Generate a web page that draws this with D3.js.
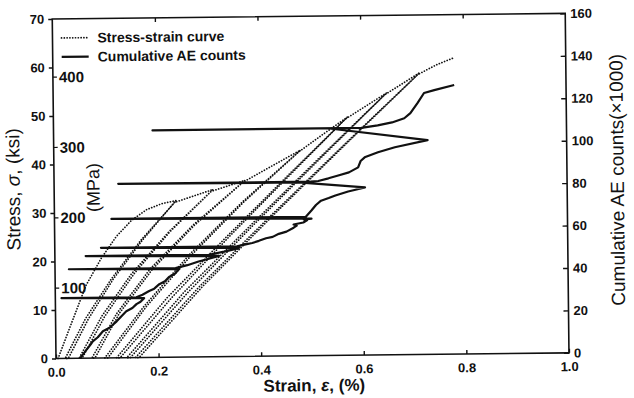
<!DOCTYPE html>
<html>
<head>
<meta charset="utf-8">
<script src="https://cdn.jsdelivr.net/npm/d3@7"></script>
<style>
  body { margin: 0; background: #fff; }
  svg { display: block; }
  text { font-family: "Liberation Sans", Arial, Helvetica, sans-serif; fill: #111; }
</style>
</head>
<body>
<svg id="chart" width="634" height="398"></svg>
<script>
// axis ticks
const stressTicks = [0, 10, 20, 30, 40, 50, 60, 70];
const countTicks = [0, 20, 40, 60, 80, 100, 120, 140, 160];
const strainTicks = [0, 0.2, 0.4, 0.6, 0.8, 1.0];
const mpaTicks = [100, 200, 300, 400];
const legendLabels = ['Stress-strain curve', 'Cumulative AE counts'];

// strain (%) vs stress (ksi): first loading, then unload / reload loops
const stressStrain = [
  [0.004, 0], [0.03, 7], [0.06, 15], [0.09, 20.5], [0.12, 25], [0.15, 28.3], [0.18, 30.5], [0.21, 31.7], [0.238, 32.3],
  [0.168, 24.2], [0.109, 16.2], [0.058, 8.1], [0.018, 0],
  [0.024, 0], [0.064, 8.1], [0.113, 16.2], [0.171, 24.2], [0.234, 31.9],
  [0.310, 34.5],
  [0.223, 25.9], [0.149, 17.3], [0.090, 8.6], [0.045, 0],
  [0.051, 0], [0.096, 8.6], [0.154, 17.3], [0.225, 25.9], [0.306, 34.1],
  [0.372, 36.3],
  [0.270, 27.2], [0.185, 18.2], [0.119, 9.1], [0.070, 0],
  [0.076, 0], [0.124, 9.1], [0.190, 18.2], [0.273, 27.2], [0.368, 35.9],
  [0.425, 39.2], [0.481, 42.4],
  [0.366, 31.8], [0.263, 21.2], [0.173, 10.6], [0.095, 0],
  [0.101, 0], [0.178, 10.6], [0.268, 21.2], [0.369, 31.8], [0.477, 42.0],
  [0.525, 45.6], [0.573, 49.1],
  [0.452, 36.8], [0.334, 24.6], [0.218, 12.3], [0.118, 0],
  [0.125, 0], [0.227, 12.3], [0.339, 24.6], [0.455, 36.8], [0.569, 48.7],
  [0.650, 54.0],
  [0.515, 40.5], [0.382, 27.0], [0.252, 13.5], [0.138, 0],
  [0.145, 0], [0.260, 13.5], [0.387, 27.0], [0.518, 40.5], [0.646, 53.6],
  [0.715, 58.1],
  [0.568, 43.6], [0.423, 29.1], [0.281, 14.5], [0.155, 0],
  [0.162, 0], [0.287, 14.5], [0.427, 29.1], [0.570, 43.6], [0.711, 57.7],
  [0.748, 59.7], [0.782, 61.1]
];

// strain (%) vs cumulative AE counts (x1000)
const aeCounts = [
  [0.047, 0], [0.055, 2.5], [0.060, 4.1], [0.068, 6.5], [0.072, 7.9], [0.082, 9.8], [0.092, 12.6], [0.105, 14.2],
  [0.119, 17.2], [0.128, 19.5], [0.138, 21.9], [0.150, 23.4], [0.158, 25.2], [0.166, 26.3], [0.173, 28.0],
  [0.012, 28.4], [0.158, 28.4],
  [0.170, 29.6], [0.183, 31.3], [0.193, 32.4], [0.203, 34.5], [0.214, 35.8], [0.222, 37.8], [0.233, 39.2], [0.242, 41.5],
  [0.027, 42.0], [0.235, 42.0],
  [0.258, 43.3], [0.280, 45.0], [0.300, 46.2], [0.320, 47.5],
  [0.060, 48.1], [0.300, 48.1],
  [0.330, 49.5], [0.345, 50.3], [0.359, 51.2],
  [0.090, 51.9], [0.355, 51.9],
  [0.372, 52.8], [0.385, 53.4], [0.398, 54.4], [0.412, 55.6], [0.425, 56.2], [0.437, 57.6], [0.452, 58.6],
  [0.466, 60.4], [0.472, 61.4], [0.466, 61.9], [0.485, 62.8], [0.492, 63.8], [0.486, 64.2], [0.501, 64.6],
  [0.111, 65.5], [0.490, 65.5],
  [0.501, 68.4], [0.510, 71.0], [0.520, 73.0], [0.535, 74.2], [0.548, 75.4], [0.573, 77.2], [0.606, 79.0],
  [0.476, 81.7], [0.125, 82.0], [0.500, 82.0],
  [0.515, 82.3], [0.535, 83.5], [0.554, 84.8], [0.575, 86.2], [0.593, 88.5], [0.598, 91.5], [0.606, 93.2],
  [0.632, 95.5], [0.665, 97.8], [0.729, 101.0],
  [0.534, 107.1], [0.193, 107.0], [0.600, 107.1],
  [0.632, 108.2], [0.660, 109.5], [0.684, 111.4], [0.696, 113.8], [0.710, 118.5], [0.723, 123.2], [0.743, 124.5], [0.782, 126.8]
];

const KSI_PER_MPA = 1 / 6.895;

const svg = d3.select('#chart');
const plotL = 56, plotR = 569, plotT = 19, plotB = 358.5;

const x = d3.scaleLinear().domain([0, 1]).range([plotL, plotR]);
const y = d3.scaleLinear().domain([0, 70]).range([plotB, plotT]);
const yc = d3.scaleLinear().domain([0, 160]).range([plotB, plotT]);

// the scanned figure sits slightly tilted
const g = svg.append('g').attr('transform', `rotate(-0.63,${plotL},${plotB})`);

const dotted = sel => sel.attr('fill', 'none').attr('stroke', '#111')
  .attr('stroke-width', 1.7).attr('stroke-linecap', 'round').attr('stroke-dasharray', '0.1 2.7');

// data lines
g.append('path')
  .datum(stressStrain)
  .attr('d', d3.line().x(d => x(d[0])).y(d => y(d[1])))
  .call(dotted);

g.append('path')
  .datum(aeCounts)
  .attr('d', d3.line().x(d => x(d[0])).y(d => yc(d[1])))
  .attr('fill', 'none').attr('stroke', '#111').attr('stroke-width', 2.2)
  .attr('stroke-linejoin', 'round');

// axes
const styleAxis = (sel, size, weight) => {
  sel.select('.domain').remove();
  sel.selectAll('line').attr('stroke', '#111').attr('stroke-width', 1.4);
  sel.selectAll('text').attr('font-size', size).attr('font-weight', weight).attr('fill', '#111');
};

g.append('g').attr('transform', `translate(${plotL},0)`)
  .call(d3.axisLeft(y).tickValues(stressTicks).tickSize(4).tickPadding(4).tickFormat(d3.format('d')))
  .call(s => styleAxis(s, 13, 'bold'));

g.append('g').attr('transform', `translate(${plotR},0)`)
  .call(d3.axisRight(yc).tickValues(countTicks).tickSize(-5).tickPadding(5).tickFormat(d3.format('d')))
  .call(s => styleAxis(s, 13, 'bold'));

g.append('g').attr('transform', `translate(0,${plotB})`)
  .call(d3.axisBottom(x).tickValues(strainTicks).tickSize(-4).tickPadding(9).tickFormat(d3.format('.1f')))
  .call(s => styleAxis(s, 13, 'bold'));

g.append('g').attr('transform', `translate(0,${plotT})`)
  .call(d3.axisTop(x).tickValues(strainTicks.slice(1, -1)).tickSize(-4).tickFormat(''))
  .call(s => styleAxis(s, 13, 'bold'));

// MPa secondary scale on the inside of the left axis
const mpa = g.append('g');
mpa.selectAll('line').data(mpaTicks).join('line')
  .attr('x1', plotL).attr('x2', plotL + 4)
  .attr('y1', d => y(d * KSI_PER_MPA)).attr('y2', d => y(d * KSI_PER_MPA))
  .attr('stroke', '#111').attr('stroke-width', 1.2);
mpa.selectAll('text').data(mpaTicks).join('text')
  .attr('x', plotL + 6).attr('y', d => y(d * KSI_PER_MPA)).attr('dy', '0.35em')
  .attr('font-size', 15).attr('font-weight', 'bold')
  .text(d => d);
g.append('text')
  .attr('transform', 'translate(95,188) rotate(-90)')
  .attr('text-anchor', 'middle').attr('dy', '0.35em').attr('font-size', 18)
  .text('(MPa)');

// frame
g.append('rect')
  .attr('x', plotL).attr('y', plotT).attr('width', plotR - plotL).attr('height', plotB - plotT)
  .attr('fill', 'none').attr('stroke', '#111').attr('stroke-width', 1.6);

// axis titles
const yTitle = g.append('text')
  .attr('transform', 'translate(15,189) rotate(-90)')
  .attr('text-anchor', 'middle').attr('dy', '0.35em').attr('font-size', 19);
yTitle.append('tspan').text('Stress, ');
yTitle.append('tspan').attr('font-style', 'italic').text('σ');
yTitle.append('tspan').text(', (ksi)');

const xTitle = g.append('text')
  .attr('x', 314).attr('y', 394)
  .attr('text-anchor', 'middle').attr('font-size', 17).attr('font-weight', 'bold');
xTitle.append('tspan').text('Strain, ');
xTitle.append('tspan').attr('font-style', 'italic').text('ε');
xTitle.append('tspan').text(', (%)');

g.append('text')
  .attr('transform', 'translate(619,186) rotate(-90)')
  .attr('text-anchor', 'middle').attr('dy', '0.35em').attr('font-size', 19)
  .text('Cumulative AE counts(×1000)');

// legend
const legend = g.append('g');
legendLabels.forEach((label, i) => {
  const ly = 38 + i * 19;
  const ln = legend.append('line').attr('x1', 65).attr('x2', 92).attr('y1', ly).attr('y2', ly);
  if (i === 0) ln.call(dotted);
  else ln.attr('stroke', '#111').attr('stroke-width', 2.2);
  legend.append('text').attr('x', 101).attr('y', ly).attr('dy', '0.35em')
    .attr('font-size', 14).attr('font-weight', 'bold').text(label);
});
</script>
</body>
</html>
